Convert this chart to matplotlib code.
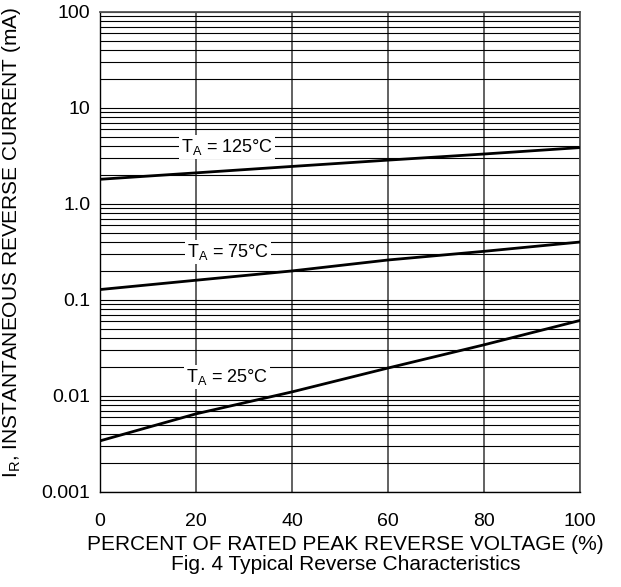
#! /usr/bin/env python3

import matplotlib
matplotlib.use('Agg')
import matplotlib.pyplot as plt
from matplotlib.ticker import FixedLocator, LogLocator, NullFormatter

plt.rcParams['font.family'] = ['Liberation Sans', 'DejaVu Sans']

# percent of rated peak reverse voltage
pct = [0, 20, 40, 60, 80, 100]
# reverse current (mA)
ir_125 = [1.8, 2.1, 2.45, 2.85, 3.3, 3.85]
ir_75 = [0.128, 0.16, 0.20, 0.26, 0.32, 0.40]
ir_25 = [0.0034, 0.0065, 0.011, 0.0195, 0.034, 0.061]

curve_labels = ['T$_{\\mathregular{A}}$ = 125°C', 'T$_{\\mathregular{A}}$ = 75°C', 'T$_{\\mathregular{A}}$ = 25°C']
label_x = [26.5, 26.7, 26.5]
label_y = [3.9, 0.316, 0.0158]

y_ticks = [0.001, 0.01, 0.1, 1.0, 10, 100]
y_ticklabels = ['0.001', '0.01', '0.1', '1.0', '10', '100']
x_ticks = [0, 20, 40, 60, 80, 100]


def main():
    fig = plt.figure(figsize=(6.21, 5.87), dpi=100)
    ax = fig.add_axes([0.161, 0.162, 0.773, 0.818])
    ax.set_yscale('log')
    ax.set_xlim(0, 100)
    ax.set_ylim(0.001, 100)

    ax.yaxis.set_major_locator(FixedLocator(y_ticks))
    ax.set_yticklabels(y_ticklabels)
    ax.yaxis.set_minor_locator(LogLocator(base=10, subs=range(2, 10)))
    ax.yaxis.set_minor_formatter(NullFormatter())
    ax.set_xticks(x_ticks)

    ax.grid(True, axis='y', which='both', color='black', lw=0.8)
    ax.grid(True, axis='x', which='major', color='#555555', lw=1.3)
    ax.tick_params(axis='both', which='both', length=0, labelsize=14)
    ax.tick_params(axis='x', pad=15)
    ax.tick_params(axis='y', pad=7)

    for s in ['top', 'right']:
        ax.spines[s].set_color('#555555')
        ax.spines[s].set_linewidth(1.3)
    for s in ['left', 'bottom']:
        ax.spines[s].set_color('black')
        ax.spines[s].set_linewidth(1.0)

    for ir in [ir_125, ir_75, ir_25]:
        ax.plot(pct, ir, color='black', lw=2.0, zorder=3)

    for txt, lx, ly in zip(curve_labels, label_x, label_y):
        ax.text(lx, ly, txt, ha='center', va='center', fontsize=13, zorder=4,
                bbox=dict(facecolor='white', edgecolor='none', pad=1.5))

    fig.text(0.019, 0.588, 'I$_{\\mathregular{R}}$, INSTANTANEOUS REVERSE CURRENT (mA)',
             rotation=90, ha='center', va='center', fontsize=15)
    fig.text(0.556, 0.0716, 'PERCENT OF RATED PEAK REVERSE VOLTAGE (%)',
             ha='center', va='center', fontsize=15)
    fig.text(0.556, 0.0375, 'Fig. 4 Typical Reverse Characteristics',
             ha='center', va='center', fontsize=15)

    fig.savefig('out.png', dpi=100)


if __name__ == '__main__':
    main()
